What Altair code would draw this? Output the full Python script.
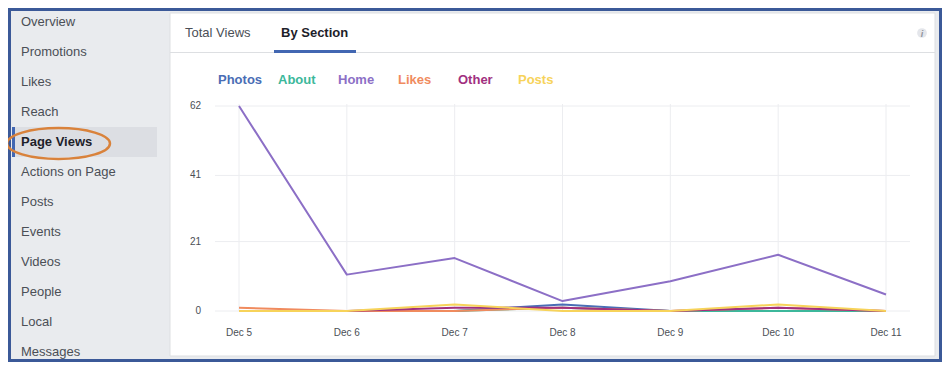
import altair as alt
import pandas as pd

# ---------------- data ----------------
days = ["Dec 5", "Dec 6", "Dec 7", "Dec 8", "Dec 9", "Dec 10", "Dec 11"]
series = ["Photos", "About", "Home", "Likes", "Other", "Posts"]
series_colors = ["#4a6db5", "#3cb89b", "#8c6fc6", "#f08b5e", "#a1307f", "#f7d35a"]

photos = [0, 0, 0, 2, 0, 0, 0]
about = [0, 0, 0, 1, 0, 0, 0]
home = [62, 11, 16, 3, 9, 17, 5]
likes = [1, 0, 0, 1, 0, 1, 0]
other = [0, 0, 1, 1, 0, 1, 0]
posts = [0, 0, 2, 0, 0, 2, 0]

y_ticks = [0, 21, 41, 62]

menu_items = ["Overview", "Promotions", "Likes", "Reach", "Page Views",
              "Actions on Page", "Posts", "Events", "Videos", "People",
              "Local", "Messages"]
active_item = "Page Views"
tab_inactive = "Total Views"
tab_active = "By Section"

# ---------------- tables ----------------
values_by_series = [photos, about, home, likes, other, posts]
rows = []
for s, vals in zip(series, values_by_series):
    for d, v in zip(days, vals):
        rows.append({"day": d, "series": s, "value": v})
lines_df = pd.DataFrame(rows)
ticks_df = pd.DataFrame({"v": y_ticks})
days_df = pd.DataFrame({"day": days})
series_df = pd.DataFrame({"series": series})
menu_df = pd.DataFrame({"item": menu_items})
dummy = alt.Data(values=[{"a": 1}])

FONT = "Liberation Sans"
TXT = "#4b4f56"
DARK = "#1d2129"

xs = alt.Scale(type="point", domain=days, range=[231, 878], padding=0)
ys = alt.Scale(domain=[0, 62], range=[303, 98], nice=False)
cs = alt.Scale(domain=series, range=series_colors)
menu_scale = alt.Scale(type="point", domain=menu_items, range=[14, 344], padding=0)


def box(x, x2, y, y2, **kw):
    return alt.Chart(dummy).mark_rect(**kw).encode(
        x=alt.value(x), x2=alt.value(x2), y=alt.value(y), y2=alt.value(y2))


def label(text, x, y, **kw):
    return alt.Chart(dummy).mark_text(text=text, font=FONT, **kw).encode(
        x=alt.value(x), y=alt.value(y))


layers = []
# gray page background inside the blue frame
layers.append(box(3, 931, 3, 351, color="#e9ebee"))
# white main panel
layers.append(box(162, 927, 5, 348, fill="white", stroke="#dddfe2", strokeWidth=1))
# tab separator
layers.append(alt.Chart(dummy).mark_rule(color="#dddfe2", strokeWidth=1).encode(
    x=alt.value(162), x2=alt.value(927), y=alt.value(44.5)))
# tab underline
layers.append(box(266, 348, 42, 45, color="#4267b2"))
layers.append(label(tab_inactive, 177, 25, align="left", baseline="middle",
                    fontSize=13, color=TXT))
layers.append(label(tab_active, 273, 25, align="left", baseline="middle",
                    fontSize=13, fontWeight="bold", color=DARK))
# info icon
layers.append(alt.Chart(dummy).mark_point(shape="circle", filled=True, size=95,
                                          color="#e4e6eb", opacity=1).encode(
    x=alt.value(914), y=alt.value(25)))
layers.append(label("i", 914, 25.5, align="center", baseline="middle", fontSize=9,
                    fontStyle="italic", fontWeight="bold", color="#90949c"))

# sidebar highlight
layers.append(box(4, 149, 119, 149, color="#dcdee3"))
layers.append(box(4, 7, 119, 149, color="#4267b2"))

# sidebar menu
layers.append(alt.Chart(menu_df).mark_text(
    align="left", baseline="middle", font=FONT, fontSize=13, color=TXT
).transform_filter(alt.datum.item != active_item).encode(
    x=alt.value(13),
    y=alt.Y("item:N", scale=menu_scale, axis=None),
    text="item:N"))
layers.append(alt.Chart(menu_df).mark_text(
    align="left", baseline="middle", font=FONT, fontSize=13, fontWeight="bold",
    color=DARK
).transform_filter(alt.datum.item == active_item).encode(
    x=alt.value(13),
    y=alt.Y("item:N", scale=menu_scale, axis=None),
    text="item:N"))

# orange ellipse around active item
ellipse = "M -1 0 A 1 0.3 0 1 0 1 0 A 1 0.3 0 1 0 -1 0 Z"
layers.append(alt.Chart(dummy).mark_point(
    shape=ellipse, size=10600, filled=False, color="#d9823b",
    strokeWidth=2.5, opacity=1
).encode(x=alt.value(50.5), y=alt.value(135.5)))

# grid
layers.append(alt.Chart(days_df).mark_rule(color="#ecedf0", strokeWidth=1).encode(
    x=alt.X("day:O", scale=xs, axis=None),
    y=alt.value(96), y2=alt.value(303)))
layers.append(alt.Chart(ticks_df).mark_rule(color="#ecedf0", strokeWidth=1).encode(
    y=alt.Y("v:Q", scale=ys, axis=None),
    x=alt.value(207), x2=alt.value(902)))

# axis labels
layers.append(alt.Chart(ticks_df).mark_text(
    align="right", baseline="middle", font=FONT, fontSize=10, color=TXT
).encode(y=alt.Y("v:Q", scale=ys, axis=None), x=alt.value(193), text="v:Q"))
layers.append(alt.Chart(days_df).mark_text(
    align="center", baseline="middle", font=FONT, fontSize=10, color=TXT
).encode(x=alt.X("day:O", scale=xs, axis=None), y=alt.value(325), text="day:N"))

# legend
layers.append(alt.Chart(series_df).mark_text(
    align="left", baseline="middle", font=FONT, fontSize=13, fontWeight="bold"
).encode(
    x=alt.X("series:N", scale=alt.Scale(type="point", domain=series,
                                        range=[210, 510], padding=0), axis=None),
    y=alt.value(72),
    text="series:N",
    color=alt.Color("series:N", scale=cs, legend=None)))

# lines
layers.append(alt.Chart(lines_df).mark_line(strokeWidth=2, strokeJoin="round").encode(
    x=alt.X("day:O", scale=xs, axis=None),
    y=alt.Y("value:Q", scale=ys, axis=None),
    color=alt.Color("series:N", scale=cs, legend=None),
    detail="series:N"))

chart = alt.layer(*layers).resolve_scale(
    x="independent", y="independent", color="shared"
).properties(
    width=934, height=354,
    autosize=alt.AutoSizeParams(type="none"),
    padding=0,
    background="#3b5998",
).configure_view(stroke=None)

chart.save("out.html", embed_options={"renderer": "svg", "actions": False})
